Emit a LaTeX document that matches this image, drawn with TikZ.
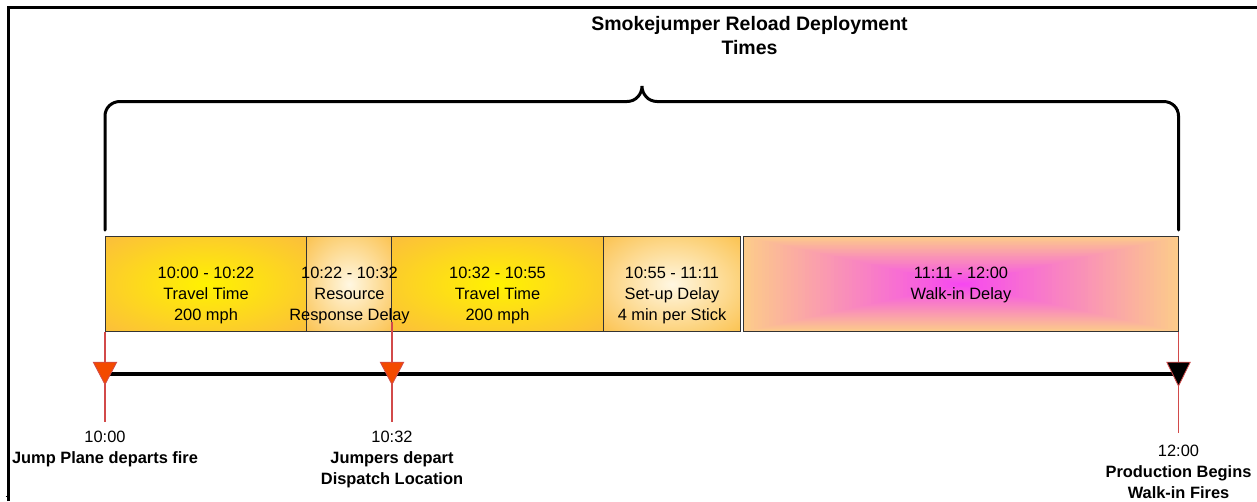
\documentclass[tikz,border=0pt]{standalone}
\usepackage{fontspec}
\setmainfont{Liberation Sans}
\definecolor{orgEdge}{HTML}{FBBD3D}
\definecolor{yelCore}{HTML}{FFF200}
\definecolor{lightEdge}{HTML}{FBC24E}
\definecolor{lightCore}{HTML}{FFF7E2}
\definecolor{walkEdge}{HTML}{FCCB8A}
\definecolor{walkCore}{HTML}{F648F0}
\definecolor{redline}{HTML}{D24A4A}
\definecolor{trifill}{HTML}{F34A00}
\definecolor{boxline}{HTML}{333333}
\pgfdeclareradialshading{yelrad}{\pgfpoint{0bp}{0bp}}{color(0bp)=(yelCore); color(36bp)=(orgEdge); color(100bp)=(orgEdge)}
\pgfdeclareradialshading{lightrad}{\pgfpoint{0bp}{0bp}}{color(0bp)=(lightCore); color(36bp)=(lightEdge); color(100bp)=(lightEdge)}
\begin{document}
\begin{tikzpicture}[x=1pt,y=-1pt,
  seg/.style={rectangle, draw=boxline, line width=0.9pt, inner sep=0pt, minimum height=95pt},
  yelseg/.style={seg, shade, shading=yelrad},
  lightseg/.style={seg, shade, shading=lightrad},
  boxtext/.style={font=\fontsize{16.4}{21}\selectfont, align=center, inner sep=0pt, anchor=north},
  marktext/.style={font=\fontsize{16.4}{21}\selectfont, align=center, inner sep=0pt, anchor=north},
  titletext/.style={font=\bfseries\fontsize{19.5}{24}\selectfont, align=center, inner sep=0pt, anchor=north},
  bracepath/.style={line width=3pt, line cap=round, black},
  redmark/.style={draw=redline, line width=1.2pt},
  timeline/.style={line width=4pt, black},
  tri/.style={draw=redline, line width=0.8pt, line join=miter}
]
\useasboundingbox (0,0) rectangle (1257,501);

% frame
\draw[line width=2.5pt] (8.7,501) -- (8.7,7.5) -- (1257,7.5);
\draw[line width=0.6pt] (5.5,496.5) -- (8,496.5);

% title
\node[titletext] (title) at (749.5,16) {Smokejumper Reload Deployment\\Times};

% brace
\draw[bracepath] (105,230) -- (105,116) .. controls (105,107.7) and (111.7,101.5) .. (120,101.5)
  -- (627,101.5) .. controls (636,101.5) and (642,94) .. (642,86)
  .. controls (642,94) and (648,101.5) .. (657,101.5)
  -- (1163.5,101.5) .. controls (1171.8,101.5) and (1178.5,107.7) .. (1178.5,116) -- (1178.5,230);

% walk-in box background (rectangular gradient)
\begin{scope}
  \foreach \i in {0,...,59}{
    \pgfmathsetmacro{\s}{1-\i/60}
    \pgfmathsetmacro{\p}{100*(\i/59)}
    \fill[walkCore!\p!walkEdge] (961.25-217.75*\s,284.2-47.5*\s) rectangle (961.25+217.75*\s,284.2+47.5*\s);
  }
\end{scope}

% segments
\node[yelseg, minimum width=201.7pt] (b1) at (205.85,284.2) {};
\node[lightseg, minimum width=85pt] (b2) at (349.2,284.2) {};
\node[yelseg, minimum width=211.6pt] (b3) at (497.5,284.2) {};
\node[lightseg, minimum width=137.2pt] (b4) at (671.9,284.2) {};
\node[seg, minimum width=435pt] (b5) at (961,284.2) {};

% segment texts
\node[boxtext] (t1) at (206,266.7) {10:00 - 10:22\\Travel Time\\200 mph};
\node[boxtext] (t2) at (349.5,266.7) {10:22 - 10:32\\Resource\\Response Delay};
\node[boxtext] (t3) at (497.5,266.7) {10:32 - 10:55\\Travel Time\\200 mph};
\node[boxtext] (t4) at (672,266.7) {10:55 - 11:11\\Set-up Delay\\4 min per Stick};
\node[boxtext] (t5) at (961,266.7) {11:11 - 12:00\\Walk-in Delay};

% milestone coordinates
\coordinate (m0) at (105,374);
\coordinate (m1) at (392,374);
\coordinate (m2) at (1178.5,374);
\coordinate (r0top) at (105,332);
\coordinate (r0bot) at (105,421.5);
\coordinate (r1top) at (392,321.5);
\coordinate (r1bot) at (392,421.5);
\coordinate (r2top) at (1178.5,332);
\coordinate (r2bot) at (1178.5,433);

% red marker lines
\draw[redmark] (r0top) -- (r0bot);
\draw[redmark] (r1top) -- (r1bot);
\draw[redmark] (r2top) -- (r2bot);

% timeline
\draw[timeline] (m0) -- (m2);

% triangles
\filldraw[tri, fill=trifill] ([shift={(-11.7,-11.8)}]m0) -- ([shift={(11.7,-11.8)}]m0) -- ([shift={(0,10.5)}]m0) -- cycle;
\filldraw[tri, fill=trifill] ([shift={(-11.7,-11.8)}]m1) -- ([shift={(11.7,-11.8)}]m1) -- ([shift={(0,10.5)}]m1) -- cycle;
\filldraw[tri, fill=black] ([shift={(-11.7,-11.8)}]m2) -- ([shift={(11.7,-11.8)}]m2) -- ([shift={(0,12)}]m2) -- cycle;

% milestone labels
\node[marktext] (l0) at (105,431) {10:00\\\textbf{Jump Plane departs fire}};
\node[marktext] (l1) at (392,431) {10:32\\\textbf{Jumpers depart}\\\textbf{Dispatch Location}};
\node[marktext] (l2) at (1178.5,444.5) {12:00\\\textbf{Production Begins}\\\textbf{Walk-in Fires}};
\end{tikzpicture}
\end{document}
